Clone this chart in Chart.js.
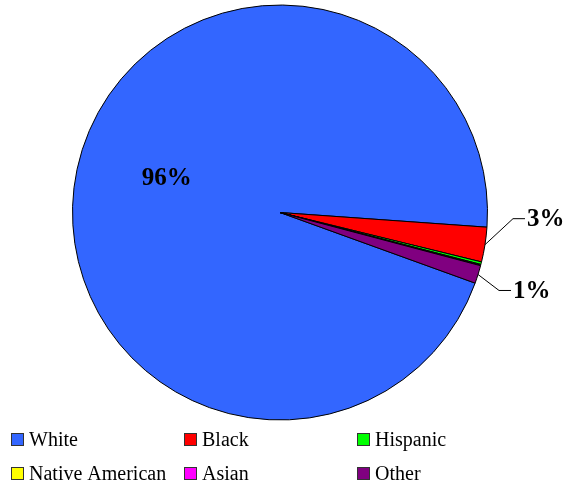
<!DOCTYPE html>
<html>
<head>
<meta charset="utf-8">
<script src="https://cdn.jsdelivr.net/npm/chart.js"></script>
<title>Population by race</title>
<style>
    body { margin:0; background:#fff; }
</style>
</head>
<body>
<canvas id="pie" width="570" height="487"></canvas>
<script>
    var categories = ['White', 'Black', 'Hispanic', 'Native American', 'Asian', 'Other'];
    var shares = [95.6, 2.7, 0.2, 0.05, 0.05, 1.4];
    var colors = ['#3366FF', '#FF0000', '#00FF00', '#FFFF00', '#FF00FF', '#800080'];

    // leader line offsets for the outside labels (elbow dx, dy)
    var leaders = { 1: [28, -26], 5: [21, 16] };

    var labelPlugin = {
        id: 'pctLabels',
        afterDatasetsDraw: function(chart) {
            var ctx = chart.ctx;
            var meta = chart.getDatasetMeta(0);
            var data = chart.data.datasets[0].data;
            var total = data.reduce(function(a, b) { return a + b; }, 0);
            ctx.save();
            ctx.font = 'bold 25px "Liberation Serif", "Times New Roman", serif';
            ctx.fillStyle = '#000';
            ctx.strokeStyle = '#000';
            ctx.lineWidth = 1;
            ctx.textBaseline = 'middle';
            meta.data.forEach(function(arc, i) {
                var pct = Math.round(data[i] / total * 100);
                if (pct < 1) return;
                var p = arc.getProps(['x', 'y', 'startAngle', 'endAngle', 'outerRadius'], true);
                var mid = (p.startAngle + p.endAngle) / 2;
                if (pct > 50) {
                    var r = p.outerRadius * 0.57;
                    var a = mid + 0.085;
                    ctx.textAlign = 'center';
                    ctx.fillText(pct + '%', p.x + Math.cos(a) * r, p.y + Math.sin(a) * r);
                } else {
                    var ex = p.x + Math.cos(mid) * p.outerRadius;
                    var ey = p.y + Math.sin(mid) * p.outerRadius;
                    var off = leaders[i] || [20, 0];
                    var kx = ex + off[0], ky = ey + off[1];
                    ctx.beginPath();
                    ctx.moveTo(ex, ey);
                    ctx.lineTo(kx, ky);
                    ctx.lineTo(kx + 12, ky);
                    ctx.stroke();
                    ctx.textAlign = 'left';
                    ctx.fillText(pct + '%', kx + 14, ky + 1);
                }
            });

            // legend, 3 columns x 2 rows
            var colX = [11, 184, 357];
            var rowY = [440, 474];
            ctx.font = '20px "Liberation Serif", "Times New Roman", serif';
            ctx.textAlign = 'left';
            ctx.textBaseline = 'middle';
            chart.data.labels.forEach(function(name, i) {
                var x = colX[i % 3], y = rowY[Math.floor(i / 3)];
                ctx.fillStyle = chart.data.datasets[0].backgroundColor[i];
                ctx.fillRect(x, y - 7, 13, 13);
                ctx.strokeStyle = '#333';
                ctx.strokeRect(x + 0.5, y - 6.5, 12, 12);
                ctx.fillStyle = '#000';
                ctx.fillText(name, x + 18, y + 1);
            });
            ctx.restore();
        }
    };

    new Chart(document.getElementById('pie'), {
        type: 'pie',
        data: {
            labels: categories,
            datasets: [{
                data: shares,
                backgroundColor: colors,
                borderColor: '#000',
                borderWidth: 1
            }]
        },
        options: {
            responsive: false,
            animation: false,
            rotation: 109.9,
            layout: { padding: { left: 72, right: 82, top: 4, bottom: 66 } },
            plugins: {
                legend: { display: false },
                tooltip: { enabled: false }
            }
        },
        plugins: [labelPlugin]
    });
</script>
</body>
</html>
